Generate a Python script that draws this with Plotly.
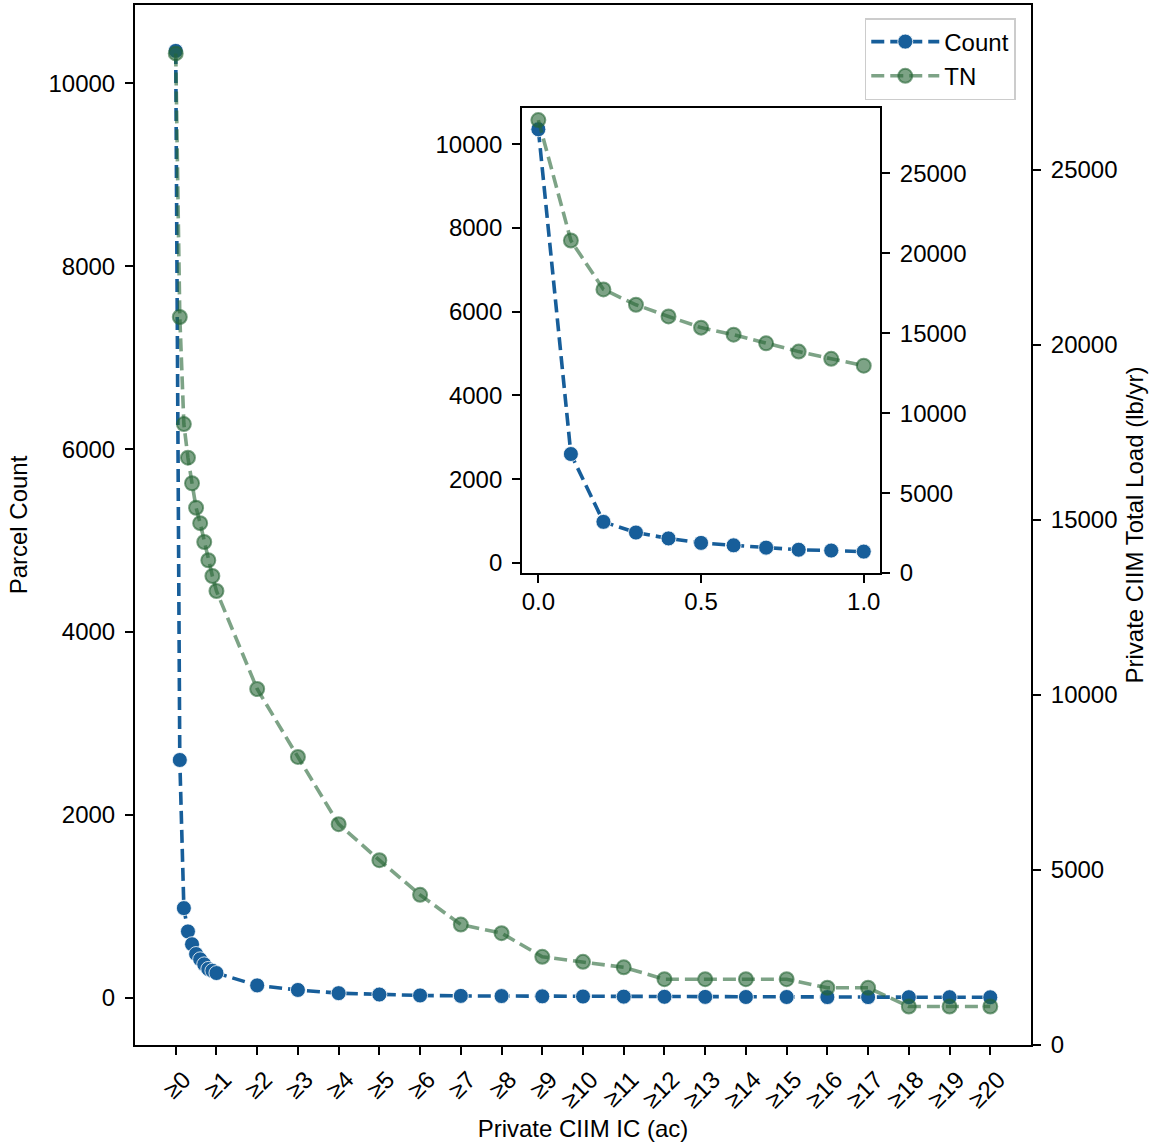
import plotly.graph_objects as go

# ---- data ----
x_fine = [0.0, 0.1, 0.2, 0.3, 0.4, 0.5, 0.6, 0.7, 0.8, 0.9, 1.0]
x_coarse = [2, 3, 4, 5, 6, 7, 8, 9, 10, 11, 12, 13, 14, 15, 16, 17, 18, 19, 20]
count_fine = [10355, 2600, 980, 725, 585, 478, 420, 365, 315, 295, 270]
count_coarse = [135, 85, 50, 35, 25, 20, 18, 15, 13, 12, 10, 9, 8, 8, 7, 7, 6, 6, 5]
tn_fine = [28330, 20800, 17740, 16780, 16050, 15350, 14910, 14370, 13850, 13400, 12970]
tn_coarse = [10170, 8230, 6310, 5280, 4290, 3440, 3195, 2520, 2375, 2220, 1880, 1880,
             1880, 1880, 1635, 1635, 1100, 1100, 1100]
x_tick_vals = list(range(0, 21))
x_tick_labels = ["≥0", "≥1", "≥2", "≥3", "≥4", "≥5", "≥6", "≥7", "≥8", "≥9", "≥10",
                 "≥11", "≥12", "≥13", "≥14", "≥15", "≥16", "≥17", "≥18", "≥19", "≥20"]
count_ticks = [0, 2000, 4000, 6000, 8000, 10000]
tn_ticks = [0, 5000, 10000, 15000, 20000, 25000]
inset_x_ticks = [0.0, 0.5, 1.0]
inset_x_labels = ["0.0", "0.5", "1.0"]

x_all = x_fine + x_coarse
count_all = count_fine + count_coarse
tn_all = tn_fine + tn_coarse

BLUE = "#175e9a"
GREEN = "rgba(38,102,53,0.6)"
FONT = "Liberation Sans, Arial, sans-serif"
DASH = "13px,6px"

fig = go.Figure()

def count_trace(x, y, xa, ya, show):
    return go.Scatter(x=x, y=y, xaxis=xa, yaxis=ya, mode="lines+markers", name="Count",
                      showlegend=show,
                      line=dict(color=BLUE, width=3.6, dash=DASH),
                      marker=dict(size=15, color=BLUE, line=dict(color="white", width=0.8)))

def tn_trace(x, y, xa, ya, show):
    return go.Scatter(x=x, y=y, xaxis=xa, yaxis=ya, mode="lines+markers", name="TN",
                      showlegend=show,
                      line=dict(color=GREEN, width=3.6, dash=DASH),
                      marker=dict(size=14, color=GREEN, line=dict(color=GREEN, width=2)))

fig.add_trace(count_trace(x_all, count_all, "x", "y", True))
fig.add_trace(tn_trace(x_all, tn_all, "x", "y2", True))
fig.add_trace(count_trace(x_fine, count_fine, "x3", "y3", False))
fig.add_trace(tn_trace(x_fine, tn_fine, "x3", "y4", False))

def ax(standoff=5, **kw):
    d = dict(showgrid=False, zeroline=False, showline=True, linecolor="black",
             linewidth=2, ticks="outside", ticklen=8, tickwidth=2, tickcolor="black",
             tickfont=dict(size=24, color="black", family=FONT), automargin=False,
             ticklabelstandoff=standoff)
    d.update(kw)
    return d

fig.update_layout(
    width=1150, height=1145,
    margin=dict(l=135, r=119, t=5, b=100),
    paper_bgcolor="white", plot_bgcolor="white",
    font=dict(family=FONT, size=24, color="black"),
    xaxis=ax(standoff=1, domain=[0, 1], anchor="y", range=[-1.0, 21.0], tickvals=x_tick_vals,
             ticktext=x_tick_labels, tickangle=-45, mirror=True, ticklabelshift=8,
             title=dict(text="Private CIIM IC (ac)", standoff=8,
                        font=dict(size=24, family=FONT))),
    yaxis=ax(domain=[0, 1], anchor="x", range=[-517, 10857], tickvals=count_ticks,
             tickformat="d",
             title=dict(text="Parcel Count", standoff=14, font=dict(size=24, family=FONT))),
    yaxis2=ax(overlaying="y", side="right", anchor="x", range=[0, 29713], tickvals=tn_ticks,
              tickformat="d",
              title=dict(text="Private CIIM Total Load (lb/yr)", standoff=10,
                         font=dict(size=24, family=FONT))),
    xaxis3=ax(standoff=-2, domain=[0.432, 0.8315], anchor="y3", range=[-0.05, 1.05],
              tickvals=inset_x_ticks, ticktext=inset_x_labels, mirror=True),
    yaxis3=ax(domain=[0.4538, 0.901], anchor="x3", range=[-242, 10864],
              tickvals=count_ticks, tickformat="d"),
    yaxis4=ax(overlaying="y3", side="right", anchor="x3", range=[0, 29090],
              tickvals=tn_ticks, tickformat="d"),
    legend=dict(x=0.983, y=0.9875, xanchor="right", yanchor="top",
                bgcolor="white", bordercolor="#cccccc", borderwidth=1.5,
                font=dict(size=24, family=FONT), itemwidth=68, tracegroupgap=0),
)

fig.write_html("out.html")
